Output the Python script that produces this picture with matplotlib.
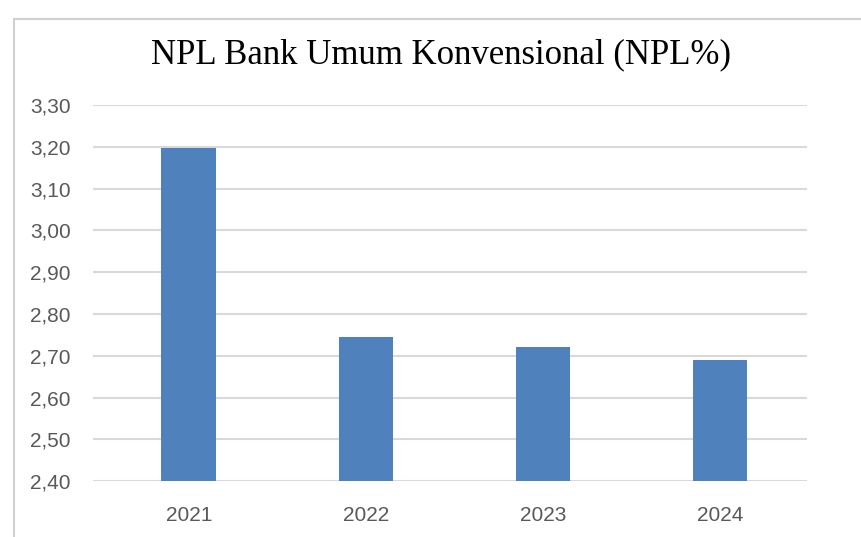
import matplotlib.pyplot as plt
from matplotlib.patches import Rectangle
from matplotlib.ticker import FuncFormatter

# Data
years = ['2021', '2022', '2023', '2024']
npl = [3.197, 2.744, 2.721, 2.689]
y_ticks = [2.40, 2.50, 2.60, 2.70, 2.80, 2.90, 3.00, 3.10, 3.20, 3.30]

fig = plt.figure(figsize=(8.61, 5.37), dpi=100)
ax = fig.add_axes([0.108, 0.104, 0.829, 0.7005])

# chart border (light gray frame, cut off right/bottom)
fig.patches.append(Rectangle((14 / 861, -0.05), 1.2, 1 - 19 / 537 + 0.05,
                             transform=fig.transFigure, fill=False,
                             edgecolor='#d0d0d0', linewidth=1.5))

x = range(len(years))
ax.bar(x, npl, width=0.31, color='#4f81bd', zorder=3)

ax.set_ylim(2.40, 3.30)
ax.set_xlim(-0.542, 3.49)
ax.set_yticks(y_ticks)
ax.yaxis.set_major_formatter(FuncFormatter(lambda v, p: f'{v:.2f}'.replace('.', ',')))
ax.set_xticks(list(x))
ax.set_xticklabels(years)

ax.grid(axis='y', color='#d9d9d9', linewidth=1.5, zorder=0)
for s in ax.spines.values():
    s.set_visible(False)
ax.tick_params(length=0, labelsize=15, labelcolor='#595959')
ax.tick_params(axis='y', pad=16)
ax.tick_params(axis='x', pad=18)
for lbl in ax.get_xticklabels() + ax.get_yticklabels():
    lbl.set_fontfamily('Liberation Sans')

fig.text(0.512, 0.8976, 'NPL Bank Umum Konvensional (NPL%)', ha='center', va='center',
         fontsize=25, family='Liberation Serif')

plt.savefig('out.png', dpi=100)
